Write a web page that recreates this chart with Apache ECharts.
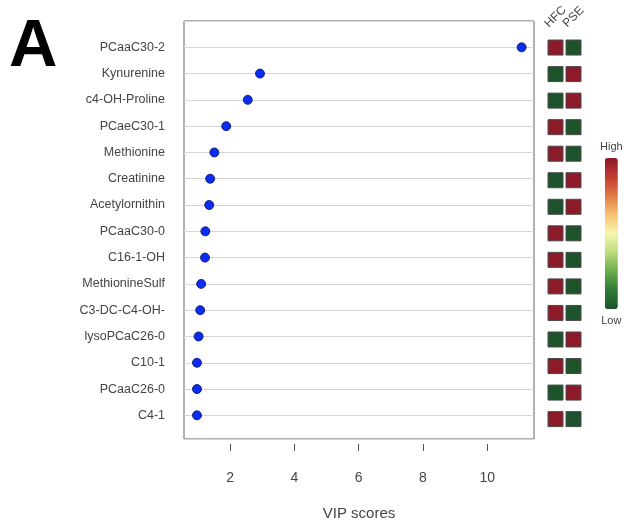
<!DOCTYPE html>
<html>
<head>
<meta charset="utf-8">
<script src="https://cdn.jsdelivr.net/npm/echarts@6/dist/echarts.min.js"></script>
<style>html,body{margin:0;padding:0;background:#fff}#c{width:627px;height:526px}</style>
</head>
<body>
<div id="c"></div>
<script>
const metabolites = ['PCaaC30-2','Kynurenine','c4-OH-Proline','PCaeC30-1','Methionine','Creatinine','Acetylornithin','PCaaC30-0','C16-1-OH','MethionineSulf','C3-DC-C4-OH-','lysoPCaC26-0','C10-1','PCaaC26-0','C4-1'];
const vipScores = [11.07, 2.93, 2.55, 1.88, 1.51, 1.38, 1.35, 1.23, 1.22, 1.10, 1.07, 1.02, 0.97, 0.97, 0.97];
const groups = ['HFC','PSE'];
const hfcLevel = ['High','Low','Low','High','High','Low','Low','High','High','High','High','Low','High','Low','High'];
const pseLevel = ['Low','High','High','Low','Low','High','High','Low','Low','Low','Low','High','Low','High','Low'];
const xTicks = [2, 4, 6, 8, 10];

const font = '"Liberation Sans", Arial, sans-serif';
const scatterData = vipScores.map((v, i) => [v, i]);
const cellData = [];
[hfcLevel, pseLevel].forEach((col, c) => col.forEach((lv, r) => cellData.push([c, r, lv === 'High' ? 1 : 0])));

const chart = echarts.init(document.getElementById('c'), null, {renderer: 'canvas'});
chart.setOption({
  animation: false,
  backgroundColor: '#fff',
  graphic: [{
    type: 'text', left: 9, top: 14,
    style: {text: 'A', font: 'bold 67px ' + font, fill: '#000'}
  }],
  grid: [
    {left: 184, right: 93, top: 21, bottom: 83, show: true, borderColor: '#666', borderWidth: 1, backgroundColor: 'transparent'},
    {left: 546.5, width: 36, top: 21, bottom: 83}
  ],
  xAxis: [{
    type: 'value', gridIndex: 0, min: 0.566, max: 11.455, offset: 5, position: 'bottom',
    axisLine: {show: false, onZero: false},
    axisTick: {show: true, length: 7, customValues: xTicks, lineStyle: {color: '#555'}},
    axisLabel: {customValues: xTicks, fontSize: 14, color: '#444', fontFamily: font, margin: 27},
    splitLine: {show: false},
    name: 'VIP scores', nameLocation: 'middle', nameGap: 62,
    nameTextStyle: {fontSize: 15, color: '#444', fontFamily: font}
  }, {
    type: 'value', gridIndex: 1, min: -0.5, max: 1.5, position: 'top',
    axisLine: {show: false, onZero: false}, axisTick: {show: false}, splitLine: {show: false},
    axisLabel: {customValues: [0, 1], formatter: v => groups[v] || '', rotate: -45, align: 'center', verticalAlign: 'middle', margin: 4, fontSize: 12, color: '#444', fontFamily: font}
  }],
  yAxis: [{
    type: 'value', gridIndex: 0, inverse: true, min: -1, max: 14.9, interval: 1,
    axisLine: {show: false, onZero: false}, axisTick: {show: false},
    axisLabel: {formatter: v => (Number.isInteger(v) && metabolites[v]) ? metabolites[v] : '', fontSize: 12.5, color: '#444', fontFamily: font, margin: 19, showMaxLabel: false},
    splitLine: {show: true, lineStyle: {color: '#d4d4d4', width: 1}}
  }, {
    type: 'value', gridIndex: 1, inverse: true, min: -1, max: 14.9, interval: 1, show: false
  }],
  visualMap: {
    type: 'continuous', seriesIndex: 1, dimension: 2, min: 0, max: 1,
    orient: 'vertical', left: 585, top: 126, itemWidth: 13, itemHeight: 151,
    text: ['High', 'Low'], textGap: 6, calculable: false, hoverLink: false,
    textStyle: {fontSize: 11, color: '#444', fontFamily: font},
    inRange: {color: ['#1d532a', '#2f7a36', '#6aac4c', '#bcdc7c', '#f6f6b0', '#f5c272', '#e07a45', '#c23a30', '#8c1a28']}
  },
  series: [{
    type: 'scatter', xAxisIndex: 0, yAxisIndex: 0, data: scatterData,
    symbol: 'circle', symbolSize: 9,
    itemStyle: {color: '#0a2cf5', borderColor: '#00105a', borderWidth: 0.8, opacity: 1}
  }, {
    type: 'scatter', xAxisIndex: 1, yAxisIndex: 1, data: cellData,
    symbol: 'rect', symbolSize: [15, 15],
    itemStyle: {borderColor: '#4a4a4a', borderWidth: 1, opacity: 1}
  }]
});
</script>
</body>
</html>
